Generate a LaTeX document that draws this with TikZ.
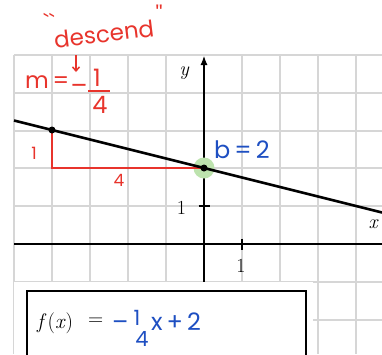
\RequirePackage{fix-cm}
\documentclass[tikz,border=0pt]{standalone}
\usepackage{fontspec}
\newfontfamily\hand{Poppins}
\usetikzlibrary{arrows.meta}
\definecolor{redpen}{HTML}{E8342C}
\definecolor{bluepen}{HTML}{1E4FC2}
\definecolor{gridc}{HTML}{D6D6D6}
\definecolor{greenhl}{HTML}{BDE3AE}
\begin{document}
\begin{tikzpicture}[x=1pt,y=-1pt,
  gridline/.style={draw=gridc,line width=1.2pt},
  axis/.style={draw=black,line width=1.1pt},
  graphline/.style={draw=black,line width=2.6pt},
  dot/.style={circle,fill=black,inner sep=0pt,minimum size=7pt},
  redline/.style={draw=redpen,line width=1.8pt},
  redtxt/.style={text=redpen,font=\hand\fontsize{17}{20}\selectfont,inner sep=0pt},
  bluetxt/.style={text=bluepen,font=\hand\fontsize{24}{28}\selectfont,inner sep=0pt},
  axlabel/.style={font=\fontsize{20}{22}\selectfont,inner sep=0pt}]
\useasboundingbox (0,0) rectangle (382,354);
\fill[white] (0,0) rectangle (382,354);
% grid
\foreach \gx in {14,52,90,128,166,242,280,318,356}
  \draw[gridline] (\gx,55) -- (\gx,354);
\foreach \gy in {55,93,131,168,206,282,320}
  \draw[gridline] (14,\gy) -- (382,\gy);
% axes
\coordinate (xl) at (14,244);
\coordinate (xr) at (382,244);
\coordinate (yb) at (204,354);
\coordinate (yt) at (204,56);
\draw[axis] (xl) -- (xr);
\draw[axis,-{Latex[length=9pt,width=7pt]}] (yb) -- (yt);
\coordinate (tx1) at (242,238.5); \coordinate (tx2) at (242,249.5);
\coordinate (ty1) at (198.5,206); \coordinate (ty2) at (209.5,206);
\draw[axis] (tx1) -- (tx2);
\draw[axis] (ty1) -- (ty2);
\node[axlabel] (ylab) at (184,73) {\itshape y};
\node[axlabel] (xlab) at (373,224) {\itshape x};
\node[axlabel] (one y) at (181.5,207.5) {1};
\node[axlabel] (one x) at (241,265.5) {1};
% green highlight
\fill[greenhl] (204,168) circle (10.5pt);
% slope triangle
\coordinate (P1) at (52,130);
\coordinate (P2) at (204,168);
\coordinate (C) at (52,168);
\draw[redline] (P1) -- (C) -- (P2);
% graph
\coordinate (L) at (14,120.5);
\coordinate (R) at (382,212.5);
\draw[graphline] (L) -- (R);
\node[dot] (d1) at (P1) {};
\node[dot] (d2) at (P2) {};
% red labels
\node[redtxt] (rise) at (34,153) {1};
\node[redtxt] (run) at (119,180) {4};
\node[redtxt,font=\hand\fontsize{23}{26}\selectfont,rotate=7] (desc) at (104,34) {descend};
\node[redtxt,font=\hand\fontsize{22}{26}\selectfont] (q1) at (49,22) {``};
\node[redtxt,font=\hand\fontsize{22}{26}\selectfont] (q2) at (159,14) {''};
\coordinate (a1) at (76,55);
\coordinate (a2) at (76,72);
\draw[draw=redpen,line width=1.5pt,-{Straight Barb[length=4pt,width=7pt]}] (a1) -- (a2);
\node[redtxt,font=\hand\fontsize{23}{28}\selectfont,anchor=west] (mlab) at (25,82) {m\,=};
\node[redtxt,font=\hand\fontsize{25}{28}\selectfont] (mminus) at (79,89) {–};
\node[redtxt,font=\hand\fontsize{24}{28}\selectfont] (mnum) at (97,78) {1};
\node[redtxt,font=\hand\fontsize{24}{28}\selectfont] (mden) at (100,105) {4};
\coordinate (b1) at (88,91); \coordinate (b2) at (110,91);
\draw[redline] (b1) -- (b2);
% blue intercept
\node[bluetxt,anchor=west] (blab) at (214,150) {b\,=\,2};
% formula box
\fill[white] (14,282) rectangle (313,360);
\node[draw=black,line width=2pt,minimum width=279pt,minimum height=80pt,anchor=north west,inner sep=0pt] (box) at (26,290) {};
\node[anchor=west,inner sep=0pt,font=\fontsize{21}{24}\selectfont] (fx) at (37,323) {\textit{f}\kern1pt(\textit{x})};
\node[anchor=west,inner sep=0pt,font=\fontsize{21}{24}\selectfont] (eq) at (88,322) {=};
\node[bluetxt,anchor=west] (minus) at (112,326) {–};
\node[bluetxt,font=\hand\fontsize{21}{24}\selectfont] (bnum) at (137,318) {1};
\node[bluetxt,font=\hand\fontsize{21}{24}\selectfont] (bden) at (142,339) {4};
\node[bluetxt,anchor=west] (rest) at (151,322) {x\,+\,2};
\end{tikzpicture}
\end{document}
